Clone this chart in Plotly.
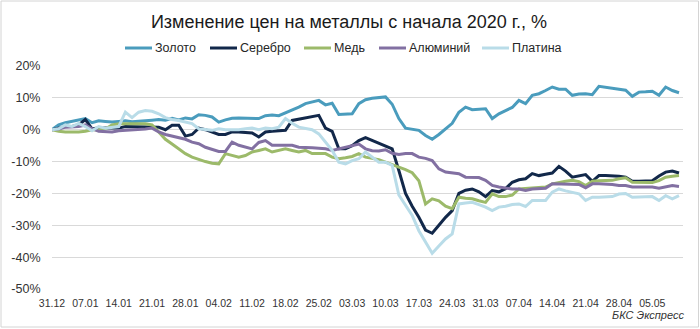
import pandas as pd
import plotly.graph_objects as go

# Trading days from 31.12.2019 (weekdays)
dates = [d.strftime("%d.%m") for d in pd.bdate_range("2019-12-31", periods=95)]

series_names = ["Золото", "Серебро", "Медь", "Алюминий", "Платина"]

gold = [0, 1.5, 2.2, 2.6, 3.0, 3.5, 2.2, 2.8, 2.6, 2.4,
        2.6, 2.8, 2.5, 2.6, 2.8, 3.0, 3.2, 3.0, 3.6, 3.1,
        3.7, 3.4, 4.7, 4.5, 4.0, 2.4, 3.1, 3.6, 3.7, 3.6,
        3.5, 3.5, 4.4, 4.6, 4.4, 5.3, 6.0, 7.1, 8.2, 8.8,
        9.2, 7.8, 8.3, 4.8, 4.8, 5.0, 8.2, 9.4, 9.9, 10.2,
        10.3, 8.0, 3.5, 0.5, 0.2, -0.2, -1.8, -3.0, -1.5, 0.2,
        2.0, 5.5, 7.1, 6.3, 6.4, 6.6, 3.5, 5.0, 6.0, 7.0,
        9.2, 8.2, 10.8, 11.3, 12.3, 13.4, 12.7, 12.7, 10.8, 11.2,
        11.3, 11.0, 13.6, 13.3, 13.1, 12.8, 12.4, 10.5, 11.8, 11.9,
        12.1, 10.8, 13.4, 12.3, 11.6]

silver = [0, 0.5, 1.0, 1.0, 1.5, 3.2, 0.3, 0.5, 0.5, 0.3,
          0.5, 1.0, 1.0, 0.8, 1.0, 1.0, 0.8, 0.0, 1.4, 1.4,
          -2.0, -1.5, 0.5, 0.0, -0.8, -1.5, -1.5, -0.7, -0.7, -0.8,
          -1.0, -2.3, -0.7, -0.5, -0.3, -0.2, 2.9, 3.3, 3.8, 4.2,
          4.5, 0.5, -0.5, -6.0, -6.0, -5.0, -3.4, -2.5, -3.4, -4.3,
          -5.0, -6.0, -12.8, -20.0, -24.0, -27.5, -31.5, -32.5, -30.0, -27.5,
          -25.4, -20.0, -19.0, -18.6, -19.5, -21.0, -19.1, -19.5, -18.5, -16.5,
          -15.7, -15.4, -13.8, -14.4, -14.0, -13.6, -11.5, -13.0, -14.9, -14.5,
          -14.1, -16.2, -14.4, -14.4, -14.4, -14.6, -14.9, -16.2, -16.2, -16.2,
          -16.0, -14.5, -13.3, -13.0, -13.6]

copper = [0, -0.5, -0.7, -0.8, -0.7, -0.5, 0.0, 0.0, 0.2, 1.5,
          1.9, 1.9, 1.8, 1.9, 1.9, 1.5, -0.7, -3.0, -4.5, -6.0,
          -7.5, -8.6, -9.4, -10.0, -10.5, -10.7, -7.5, -8.0, -8.6, -8.1,
          -7.0, -6.5, -6.0, -7.0, -6.5, -6.0, -6.5, -7.0, -6.5, -7.5,
          -7.5, -7.5, -8.6, -9.1, -8.8, -8.4, -7.5, -8.6, -9.0, -9.4,
          -10.2, -11.0, -11.6, -12.5, -13.5, -16.0, -23.3, -21.7, -22.3, -24.0,
          -24.8, -21.2, -21.5, -21.7, -22.3, -22.8, -20.1, -21.0, -21.0, -20.5,
          -18.6, -18.4, -18.3, -18.2, -18.0, -17.0, -16.5, -16.2, -15.9, -16.3,
          -17.5, -16.2, -16.0, -15.9, -15.9, -15.4, -15.1, -16.5, -16.5, -16.6,
          -16.6, -16.0, -14.9, -14.6, -14.4]

aluminium = [0, 0.2, 0.8, 0.9, 1.0, 1.5, 0.3, -0.5, -0.7, -0.7,
             -0.3, -0.2, 0.0, 0.0, 0.2, 0.5, -0.7, -1.5, -2.0, -2.3,
             -3.0, -3.9, -4.4, -5.5, -6.2, -6.8, -6.8, -3.9, -4.9, -5.5,
             -6.0, -4.0, -3.4, -4.9, -4.9, -4.9, -4.9, -5.5, -5.5, -5.7,
             -5.8, -6.0, -6.5, -6.0, -5.5, -4.9, -4.5, -6.0, -6.6, -6.7,
             -6.3, -7.4, -7.8, -7.5, -7.5, -8.6, -9.0, -9.7, -12.3, -13.3,
             -13.6, -13.8, -14.9, -14.9, -15.0, -15.9, -17.5, -18.0, -18.4, -18.6,
             -18.6, -19.1, -18.6, -18.4, -18.4, -17.0, -17.0, -17.2, -17.0, -17.2,
             -18.2, -17.0, -17.0, -17.0, -17.2, -17.5, -17.5, -18.0, -18.0, -18.0,
             -18.0, -18.4, -18.0, -17.5, -17.8]

platinum = [0, 0.3, 1.5, 1.0, 2.0, 1.0, -0.3, 1.0, 0.5, 0.8,
            1.0, 5.5, 3.8, 5.5, 6.0, 5.8, 5.0, 3.8, 3.2, 2.9,
            2.4, 1.9, 0.3, 0.0, -0.2, 0.3, 0.0, 0.0, 0.0, 0.3,
            0.5, 0.0, 0.5, 0.3, 0.8, 3.5, 2.0, 0.8, 0.5, 0.0,
            -1.3, -3.9, -6.5, -10.2, -10.7, -9.7, -9.1, -7.0, -8.6, -10.2,
            -10.2, -11.2, -20.5, -23.5, -26.9, -31.7, -35.3, -38.8, -36.5, -34.3,
            -32.7, -23.3, -23.0, -22.8, -23.5, -24.3, -25.4, -24.3, -24.0, -23.5,
            -23.3, -24.1, -22.2, -22.2, -22.2, -19.6, -18.6, -19.2, -19.6, -20.1,
            -22.2, -21.2, -21.2, -21.0, -21.0, -20.2, -20.0, -21.2, -21.2, -21.0,
            -21.0, -22.2, -20.7, -21.7, -20.7]

y_ticks = [20, 10, 0, -10, -20, -30, -40, -50]
y_tick_labels = ["20%", "10%", "0%", "-10%", "-20%", "-30%", "-40%", "-50%"]
x_tick_labels = dates[::5]

colors = ["#4a9cbd", "#12284a", "#9cba6a", "#8270a2", "#b9dce8"]
values = [gold, silver, copper, aluminium, platinum]

W, H = 700, 329
ML, MR, MT, MB = 52, 17, 66, 40
PW, PH = W - ML - MR, H - MT - MB


def px_x(px):
    return (px - ML) / PW


def px_y(py):
    return (H - MB - py) / PH


FONT = "Liberation Sans, Arial, sans-serif"

fig = go.Figure()
for name, vals, col in zip(series_names, values, colors):
    fig.add_trace(go.Scatter(
        x=dates, y=vals, name=name, mode="lines",
        line=dict(color=col, width=3, shape="linear"),
    ))

# Legend drawn as line samples plus labels above the plot
legend_left = [125, 210, 304, 379, 482]
shapes = []
annotations = []
for name, col, lx in zip(series_names, colors, legend_left):
    shapes.append(dict(type="line", xref="paper", yref="paper",
                       x0=px_x(lx), x1=px_x(lx + 27), y0=px_y(48), y1=px_y(48),
                       line=dict(color=col, width=3)))
    annotations.append(dict(text=name, xref="paper", yref="paper",
                            x=px_x(lx + 28), y=px_y(48), xanchor="left", yanchor="middle",
                            showarrow=False, font=dict(family=FONT, size=12.5, color="#262626")))

# Outer frame
shapes.append(dict(type="rect", xref="paper", yref="paper",
                   x0=px_x(1), x1=px_x(698.5), y0=px_y(1), y1=px_y(327),
                   line=dict(color="#d4d4d4", width=1), fillcolor="rgba(0,0,0,0)", layer="below"))

annotations.append(dict(text="<i>БКС Экспресс</i>", xref="paper", yref="paper",
                        x=px_x(686), y=px_y(315), xanchor="right", yanchor="middle",
                        showarrow=False, font=dict(family=FONT, size=11, color="#333333")))

fig.update_layout(
    width=W, height=H, autosize=False,
    margin=dict(l=ML, r=MR, t=MT, b=MB),
    paper_bgcolor="white", plot_bgcolor="white",
    showlegend=False,
    title=dict(text="Изменение цен на металлы с начала 2020 г., %",
               x=px_x(349), xref="paper", xanchor="center",
               y=1 - 22 / H, yref="container", yanchor="middle",
               font=dict(family=FONT, size=18, color="#1a1a1a")),
    shapes=shapes, annotations=annotations,
    xaxis=dict(type="category", range=[0, 94.6], tickmode="array",
               tickvals=x_tick_labels, ticktext=x_tick_labels,
               showgrid=False, zeroline=False, showline=False,
               ticks="outside", ticklen=4, tickcolor="rgba(0,0,0,0)",
               tickangle=0,
               tickfont=dict(family=FONT, size=10.5, color="#333333")),
    yaxis=dict(range=[-50, 20], tickmode="array", tickvals=y_ticks, ticktext=y_tick_labels,
               showgrid=True, gridcolor="#d9d9d9", gridwidth=1,
               zeroline=False, showline=False,
               ticks="outside", ticklen=8, tickcolor="rgba(0,0,0,0)",
               tickfont=dict(family=FONT, size=12.5, color="#333333")),
    font=dict(family=FONT),
)

fig.write_html("out.html")
